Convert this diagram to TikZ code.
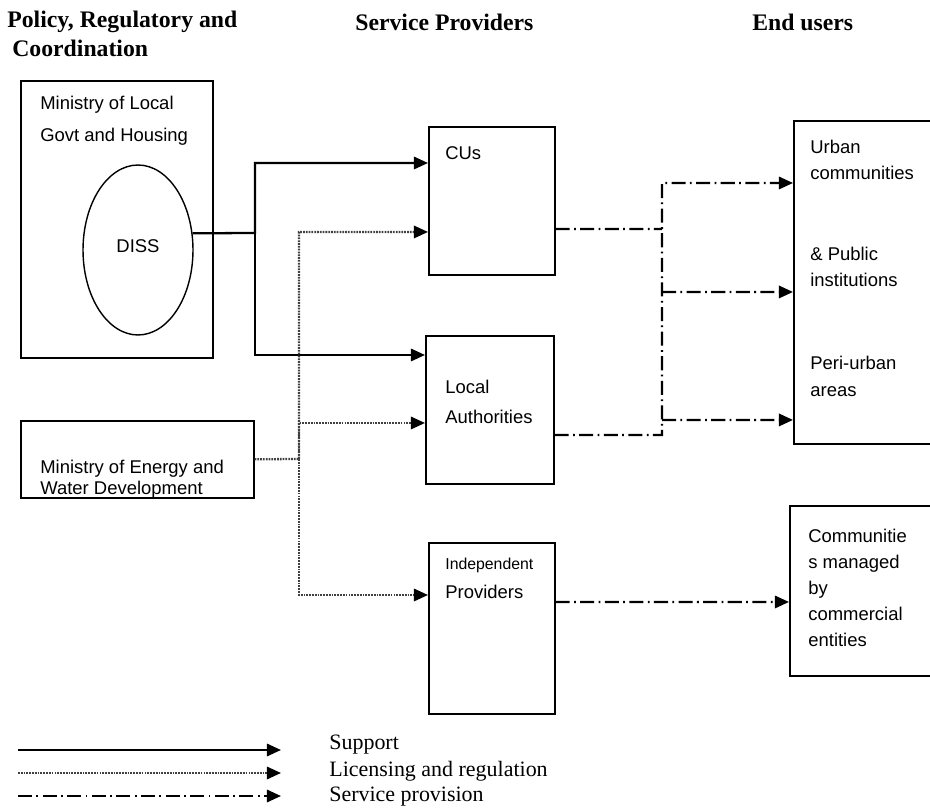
\documentclass[tikz,border=0pt]{standalone}
\usepackage{fontspec}
\setmainfont{Liberation Sans}
\newfontfamily\headfont{Liberation Serif}
\usetikzlibrary{positioning, calc, arrows.meta, shapes.geometric}

\begin{document}
\begin{tikzpicture}[x = 0.02cm, y = -0.02cm]

\tikzset{
box/.style = {rectangle, draw, line width = 0.9pt, inner sep = 0pt, anchor = north west},
txt/.style = {anchor = west, align = left, inner sep = 0pt,
	font = \fontsize{10.5}{14.5}\selectfont},
heading/.style = {anchor = west, align = left, inner sep = 0pt,
	font = \headfont\bfseries\fontsize{13.5}{14.7}\selectfont},
legtext/.style = {anchor = west, inner sep = 0pt, font = \headfont\fontsize{12.5}{14}\selectfont},
support/.style = {line width = 1.3pt, -{Triangle[length = 8pt, width = 7pt]}},
licensing/.style = {line width = 1.3pt, black!75, dash pattern = on 1pt off 0.6pt,
	-{Triangle[length = 8pt, width = 7pt, black]}},
service/.style = {line width = 1.3pt, dash pattern = on 8pt off 2.5pt on 1pt off 2.5pt},
}

\useasboundingbox (0, 0) rectangle (930, 810);
\clip (0, 0) rectangle (930, 810);

%% Headings
\node at (7, 22) [heading] (h1) {Policy, Regulatory and};
\node at (12, 48) [heading] (h1b) {Coordination};
\node at (355, 22) [heading] (h2) {Service Providers};
\node at (752, 22) [heading] (h3) {End users};

%% Policy
\node at (20, 80) [box, minimum width = 3.84cm, minimum height = 5.54cm] (molg) {};
\node at (40, 121) [txt, font = \fontsize{10.5}{18}\selectfont] {Ministry of Local\\Govt and Housing};
\node at (138, 250) [ellipse, draw, line width = 0.8pt, minimum width = 2.2cm,
	minimum height = 3.4cm, font = \fontsize{10.5}{12}\selectfont] (diss) {\raisebox{0.14cm}{DISS}};
\node at (20, 420) [box, minimum width = 4.66cm, minimum height = 1.54cm] (moewd) {};
\node at (40, 479) [txt, font = \fontsize{10.5}{12}\selectfont] {Ministry of Energy and\\Water Development};

%% Service providers
\node at (428, 126) [box, minimum width = 2.52cm, minimum height = 2.96cm] (cus) {};
\node at (445, 153) [txt] {CUs};
\node at (425, 335) [box, minimum width = 2.56cm, minimum height = 2.96cm] (la) {};
\node at (445, 402) [txt, font = \fontsize{10.5}{17}\selectfont] {Local\\Authorities};
\node at (428, 542) [box, minimum width = 2.52cm, minimum height = 3.42cm] (ip) {};
\node at (445, 578) [txt, font = \fontsize{10.5}{16.5}\selectfont]
	{{\fontsize{9}{10}\selectfont Independent}\\Providers};

%% End users
\node at (793, 120) [box, minimum width = 2.84cm, minimum height = 6.46cm] (urban) {};
\node at (810, 160) [txt] {Urban\\communities};
\node at (810, 267) [txt] {\& Public\\institutions};
\node at (810, 376) [txt, font = \fontsize{10.5}{15.3}\selectfont] {Peri-urban\\areas};
\node at (789, 505) [box, minimum width = 2.92cm, minimum height = 3.4cm] (comm) {};
\node at (808, 588) [txt, font = \fontsize{10.5}{14.7}\selectfont]
	{Communitie\\s managed\\by\\commercial\\entities};

%% Support
\coordinate (sj) at (255, 233);
\draw [support] (diss.17) -- (sj) |- ([yshift = -0.74cm]cus.north west);
\draw [support] (sj) |- ([yshift = -0.4cm]la.north west);

%% Licensing and regulation
\coordinate (lj) at (299, 459);
\draw [licensing] (moewd.east) -- (lj) |- ([yshift = -2.12cm]cus.north west);
\draw [licensing] (lj) |- ([yshift = -1.76cm]la.north west);
\draw [licensing] (lj) |- ([yshift = -1.06cm]ip.north west);

%% Service provision
\coordinate (sv1) at (662, 229);
\coordinate (sv2) at (662, 435);
\coordinate (st) at (662, 183);
\coordinate (sm) at (662, 292);
\coordinate (sb) at (662, 420);
\draw [service] ([yshift = -2.06cm]cus.north east) -- (sv1);
\draw [service, -{Triangle[length = 8pt, width = 7pt]}] ([yshift = -2cm]la.north east)
	-- (sv2) -- (st) -- ([yshift = -1.26cm]urban.north west);
\draw [service, -{Triangle[length = 8pt, width = 7pt]}] (sm) -- ([yshift = -3.44cm]urban.north west);
\draw [service, -{Triangle[length = 8pt, width = 7pt]}] (sb) -- ([yshift = -6cm]urban.north west);
\draw [service, -{Triangle[length = 8pt, width = 7pt]}] ([yshift = -1.2cm]ip.north east)
	-- ([yshift = -1.94cm]comm.north west);

%% Legend
\coordinate (l1a) at (18, 750);
\coordinate (l1b) at (281, 750);
\coordinate (l2a) at (18, 773);
\coordinate (l2b) at (281, 773);
\coordinate (l3a) at (18, 796);
\coordinate (l3b) at (281, 796);
\draw [support] (l1a) -- (l1b);
\draw [licensing] (l2a) -- (l2b);
\draw [service, -{Triangle[length = 8pt, width = 7pt]}] (l3a) -- (l3b);
\node at (329, 745) [legtext] (leg1) {Support};
\node at (329, 771) [legtext] (leg2) {Licensing and regulation};
\node at (329, 797) [legtext] (leg3) {Service provision};

\end{tikzpicture}
\end{document}
